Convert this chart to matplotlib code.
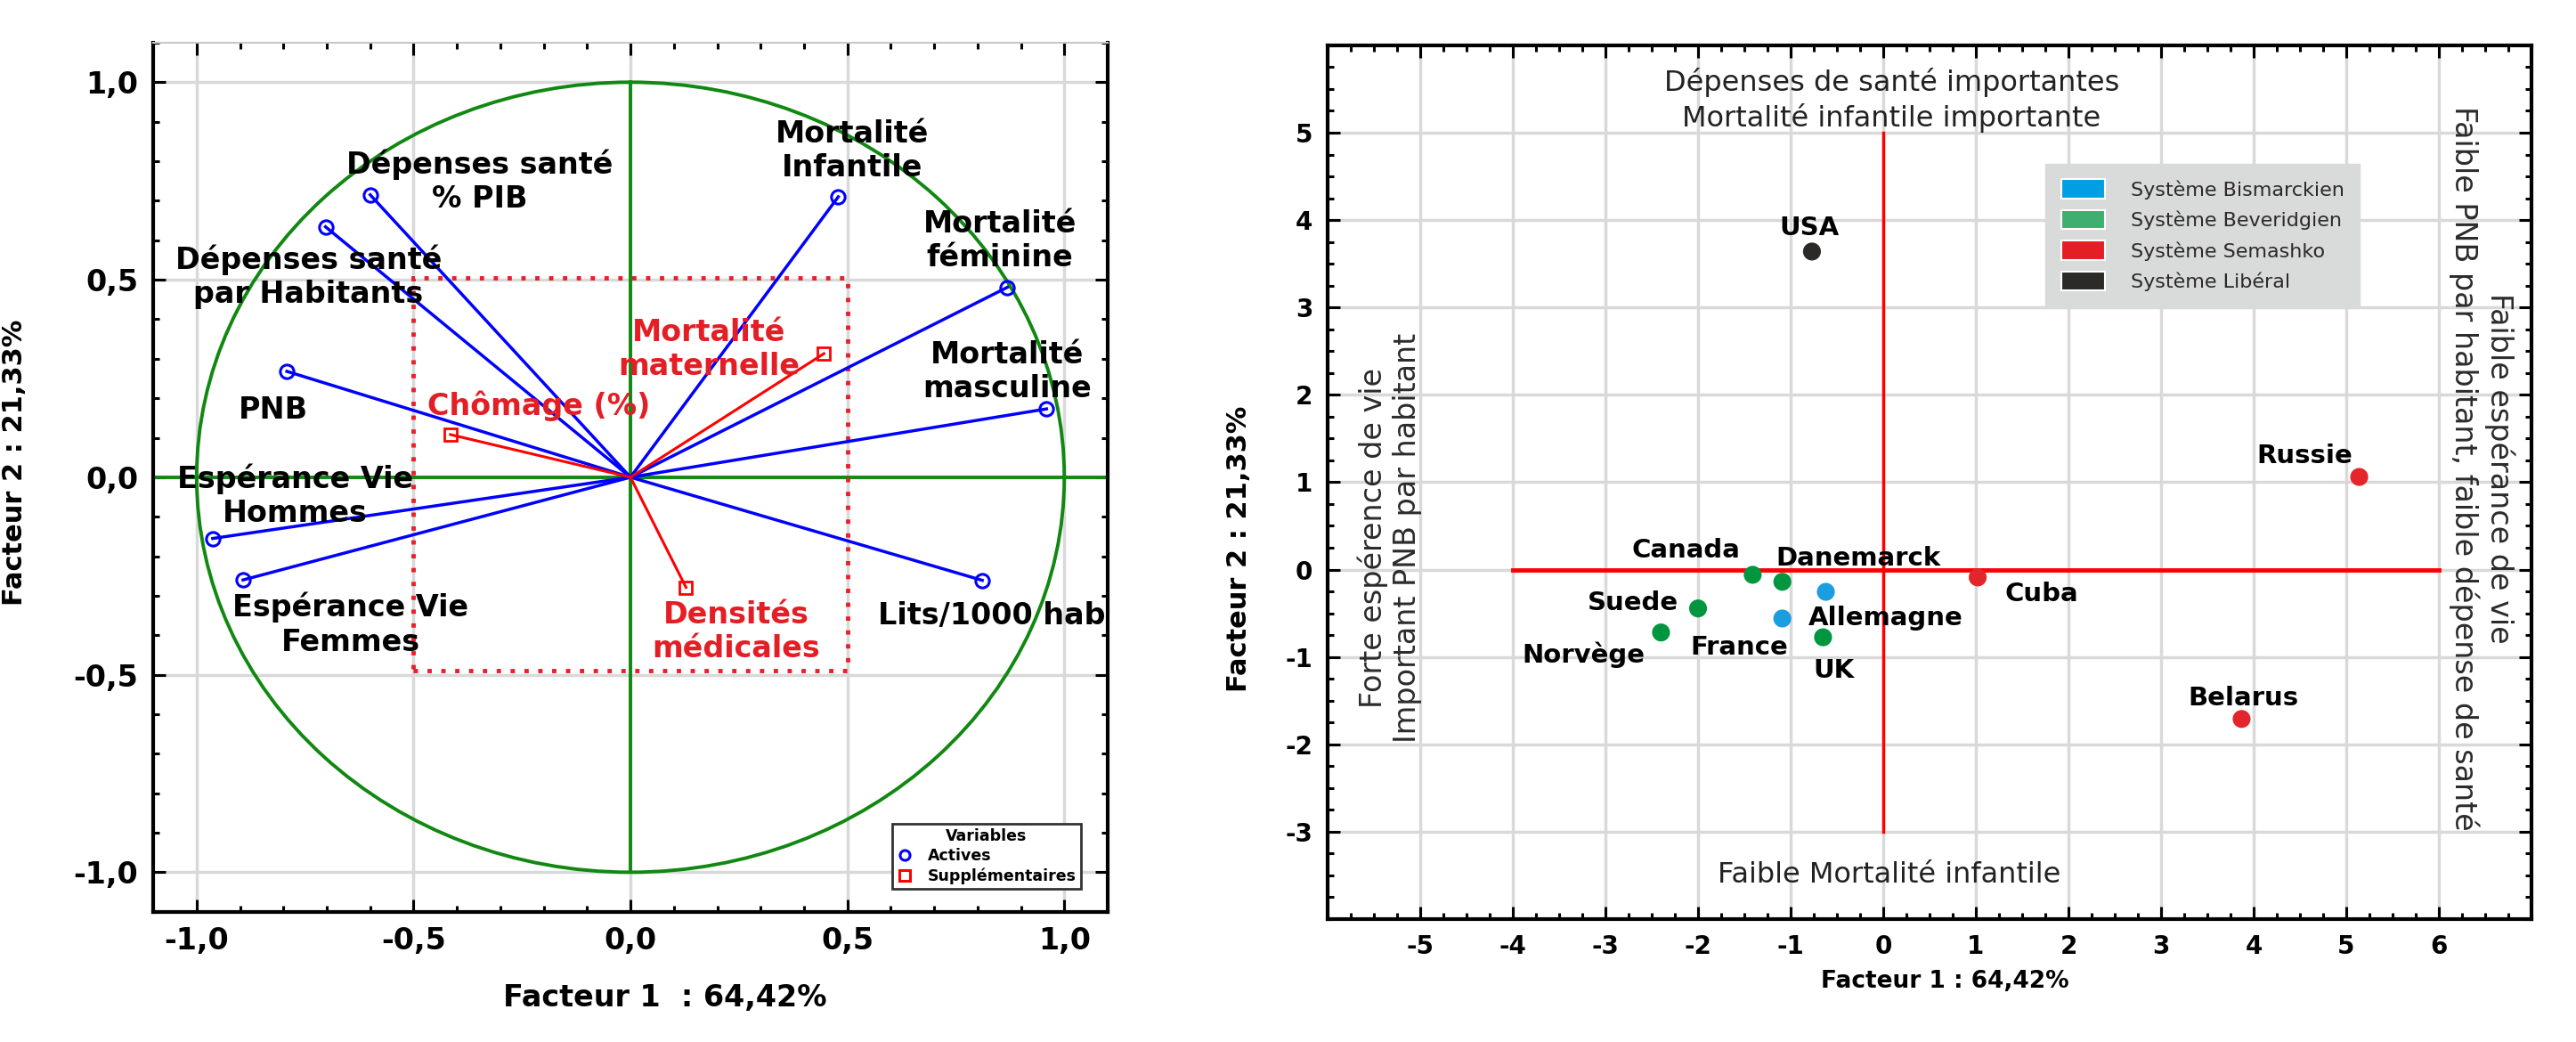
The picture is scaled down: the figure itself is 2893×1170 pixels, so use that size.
import matplotlib
matplotlib.use('Agg')
import matplotlib.pyplot as plt
from matplotlib.lines import Line2D
from matplotlib.patches import Patch, Rectangle, Circle
from matplotlib.ticker import MultipleLocator, FixedLocator, FuncFormatter

plt.rcParams['font.family'] = ['DejaVu Sans']

# ---------------- Data: correlation circle (left) ----------------
active_names = ["Dépenses santé\n% PIB", "Dépenses santé\npar Habitants", "PNB",
                "Mortalité\nInfantile", "Mortalité\nféminine", "Mortalité\nmasculine",
                "Espérance Vie\nHommes", "Espérance Vie\nFemmes", "Lits/1000 hab"]
active_f1 = [-0.600, -0.703, -0.792, 0.479, 0.869, 0.959, -0.963, -0.893, 0.811]
active_f2 = [0.715, 0.634, 0.268, 0.710, 0.481, 0.173, -0.155, -0.260, -0.261]

supp_names = ["Mortalité\nmaternelle", "Chômage (%)", "Densités\nmédicales"]
supp_f1 = [0.446, -0.415, 0.128]
supp_f2 = [0.313, 0.108, -0.279]

# label placement (layout)
active_lab = [(-0.348, 0.748), (-0.742, 0.508), (-0.824, 0.169), (0.512, 0.826),
              (0.852, 0.598), (0.868, 0.266), (-0.773, -0.047), (-0.645, -0.373),
              (0.832, -0.351)]
supp_lab = [(0.180, 0.324), (-0.212, 0.180), (0.243, -0.391)]

# ---------------- Data: individuals (right) ----------------
countries = ["USA", "Russie", "Canada", "Danemarck", "Allemagne", "Suede",
             "France", "Norvège", "UK", "Cuba", "Belarus"]
sys_of = ["Libéral", "Semashko", "Beveridgien", "Beveridgien", "Bismarckien",
          "Beveridgien", "Bismarckien", "Beveridgien", "Beveridgien", "Semashko", "Semashko"]
ind_f1 = [-0.77, 5.14, -1.41, -1.09, -0.62, -2.00, -1.09, -2.40, -0.65, 1.02, 3.87]
ind_f2 = [3.64, 1.06, -0.06, -0.14, -0.255, -0.445, -0.56, -0.72, -0.775, -0.09, -1.71]
country_lab = [(-0.80, 3.91), (4.55, 1.30), (-2.13, 0.22), (-0.27, 0.13), (0.03, -0.56),
               (-2.70, -0.38), (-1.56, -0.89), (-3.24, -0.98), (-0.53, -1.16),
               (1.71, -0.28), (3.89, -1.47)]

systems = ["Bismarckien", "Beveridgien", "Semashko", "Libéral"]
point_colors = {"Bismarckien": "#1a9ee0", "Beveridgien": "#009640",
                "Semashko": "#e3262b", "Libéral": "#2b2a29"}
legend_colors = {"Bismarckien": "#009fe3", "Beveridgien": "#3fae6e",
                 "Semashko": "#e31e24", "Libéral": "#2b2a29"}

fig = plt.figure(figsize=(28.93, 11.70), dpi=100)

GRID = '#d9d9d9'

def style_axes(ax, top_color='black'):
    for s in ['left', 'bottom', 'right']:
        ax.spines[s].set_linewidth(3)
        ax.spines[s].set_color('black')
    ax.spines['top'].set_color(top_color)
    ax.spines['top'].set_linewidth(3 if top_color == 'black' else 1.5)
    ax.tick_params(which='both', direction='in', top=True, right=True, width=2.2, color='black')
    ax.tick_params(which='major', length=10, pad=12)
    ax.tick_params(which='minor', length=5)
    ax.grid(True, which='major', color=GRID, lw=2.5, zorder=0)
    ax.set_axisbelow(True)

# ---------------- Left panel ----------------
ax1 = fig.add_axes([0.0595, 0.125, 0.3705, 0.834])
ax1.set_xlim(-1.1, 1.1)
ax1.set_ylim(-1.1, 1.1)
style_axes(ax1, top_color='#c8c8c8')
ax1.xaxis.set_major_locator(FixedLocator([-1, -0.5, 0, 0.5, 1]))
ax1.yaxis.set_major_locator(FixedLocator([-1, -0.5, 0, 0.5, 1]))
ax1.xaxis.set_minor_locator(MultipleLocator(0.1))
ax1.yaxis.set_minor_locator(MultipleLocator(0.1))
fmt1 = FuncFormatter(lambda v, p: f"{v:.1f}".replace('.', ',').replace('−', '-'))
ax1.xaxis.set_major_formatter(fmt1)
ax1.yaxis.set_major_formatter(fmt1)
for lab in ax1.get_xticklabels() + ax1.get_yticklabels():
    lab.set_fontsize(24)
    lab.set_fontweight('bold')

ax1.add_patch(Circle((0, 0), 1.0, fill=False, color='#118811', lw=2.8, zorder=2))
ax1.axhline(0, color='#118811', lw=2.8, zorder=2)
ax1.plot([0, 0], [-1, 1], color='#118811', lw=2.8, zorder=2)
ax1.add_patch(Rectangle((-0.5, -0.49), 1.0, 0.995, fill=False, ls=(0, (1, 2.2)),
                        lw=3.5, color='#e8202a', zorder=3))

for x, y in zip(active_f1, active_f2):
    ax1.plot([0, x], [0, y], color='#0000ff', lw=2.5, zorder=4)
ax1.plot(active_f1, active_f2, 'o', ms=11, mfc='none', mec='#0000ff', mew=2.2, zorder=5)
for x, y in zip(supp_f1, supp_f2):
    ax1.plot([0, x], [0, y], color='#ff0000', lw=2.2, zorder=4)
ax1.plot(supp_f1, supp_f2, 's', ms=10, mfc='none', mec='#ff0000', mew=2.0, zorder=5)

for name, (lx, ly) in zip(active_names, active_lab):
    ax1.text(lx, ly, name, ha='center', va='center', fontsize=24, fontweight='bold',
             color='black', zorder=6, linespacing=1.2)
for name, (lx, ly) in zip(supp_names, supp_lab):
    ax1.text(lx, ly, name, ha='center', va='center', fontsize=24, fontweight='bold',
             color='#e31e24', zorder=6, linespacing=1.2)

h1 = [Line2D([], [], marker='o', ls='none', mfc='none', mec='#0000ff', mew=2.2, ms=8),
      Line2D([], [], marker='s', ls='none', mfc='none', mec='#ff0000', mew=2.2, ms=8)]
leg1 = ax1.legend(h1, ["Actives", "Supplémentaires"], title="Variables",
                  loc='lower right', bbox_to_anchor=(0.98, 0.017),
                  prop={'size': 12.5, 'weight': 'bold'},
                  title_fontproperties={'size': 12.5, 'weight': 'bold'},
                  frameon=True, fancybox=False, edgecolor='#333333', framealpha=1,
                  handletextpad=1.0, borderpad=0.3, labelspacing=0.25, handlelength=1.0)
leg1.get_frame().set_linewidth(2)

fig.text(0.258, 0.042, "Facteur 1  : 64,42%", ha='center', va='center',
         fontsize=24, fontweight='bold')
fig.text(0.0008, 0.556, "Facteur 2 : 21,33%", ha='left', va='center', rotation=90,
         fontsize=22, fontweight='bold')

# ---------------- Right panel ----------------
ax2 = fig.add_axes([0.5154, 0.118, 0.4673, 0.8385])
ax2.set_xlim(-6, 7)
ax2.set_ylim(-4, 6)
style_axes(ax2)
ax2.xaxis.set_major_locator(FixedLocator(list(range(-5, 7))))
ax2.yaxis.set_major_locator(FixedLocator(list(range(-3, 6))))
ax2.xaxis.set_minor_locator(MultipleLocator(0.25))
ax2.yaxis.set_minor_locator(MultipleLocator(0.25))
fmt2 = FuncFormatter(lambda v, p: f"{int(round(v))}")
ax2.xaxis.set_major_formatter(fmt2)
ax2.yaxis.set_major_formatter(fmt2)
for lab in ax2.get_xticklabels() + ax2.get_yticklabels():
    lab.set_fontsize(20)
    lab.set_fontweight('bold')

ax2.plot([-4, 6], [0, 0], color='#ff0000', lw=3.5, zorder=3)
ax2.plot([0, 0], [-3, 5], color='#ff0000', lw=2.5, zorder=3)

for sname in systems:
    xs = [x for x, s in zip(ind_f1, sys_of) if s == sname]
    ys = [y for y, s in zip(ind_f2, sys_of) if s == sname]
    ax2.scatter(xs, ys, s=210, color=point_colors[sname], zorder=5, edgecolors='none')

for name, (lx, ly) in zip(countries, country_lab):
    ax2.text(lx, ly, name, ha='center', va='center', fontsize=21, fontweight='bold',
             color='black', zorder=6)

ax2.text(0.09, 5.37, "Dépenses de santé importantes\nMortalité infantile importante",
         ha='center', va='center', fontsize=23, color='#222222', linespacing=1.25)
ax2.text(0.06, -3.5, "Faible Mortalité infantile", ha='center', va='center',
         fontsize=23, color='#222222')
ax2.text(-5.33, 0.36, "Forte espérence de vie\nImportant PNB par habitant",
         ha='center', va='center', rotation=90, fontsize=24, color='#2b2b2b',
         linespacing=1.2)
ax2.text(6.46, 1.16, "Faible espérance de vie\nFaible PNB par habitant, faible dépense de santé",
         ha='center', va='center', rotation=270, fontsize=24, color='#2b2b2b',
         linespacing=1.2)

h2 = [Patch(facecolor=legend_colors[s], edgecolor='white', lw=1.5) for s in systems]
leg2 = ax2.legend(h2, ["Système " + s for s in systems], loc='upper left',
                  bbox_to_anchor=(0.588, 0.876), prop={'size': 16},
                  frameon=True, fancybox=False, facecolor='#d9dada', edgecolor='#d9dada',
                  framealpha=1, handlelength=2.2, handleheight=1.1, handletextpad=1.3,
                  labelspacing=0.55, borderpad=0.8)
for t in leg2.get_texts():
    t.set_color('#2b2a29')

fig.text(0.755, 0.058, "Facteur 1 : 64,42%", ha='center', va='center',
         fontsize=19, fontweight='bold')
fig.text(0.481, 0.473, "Facteur 2 : 21,33%", ha='center', va='center', rotation=90,
         fontsize=22, fontweight='bold')

fig.savefig('out.png', dpi=100)
